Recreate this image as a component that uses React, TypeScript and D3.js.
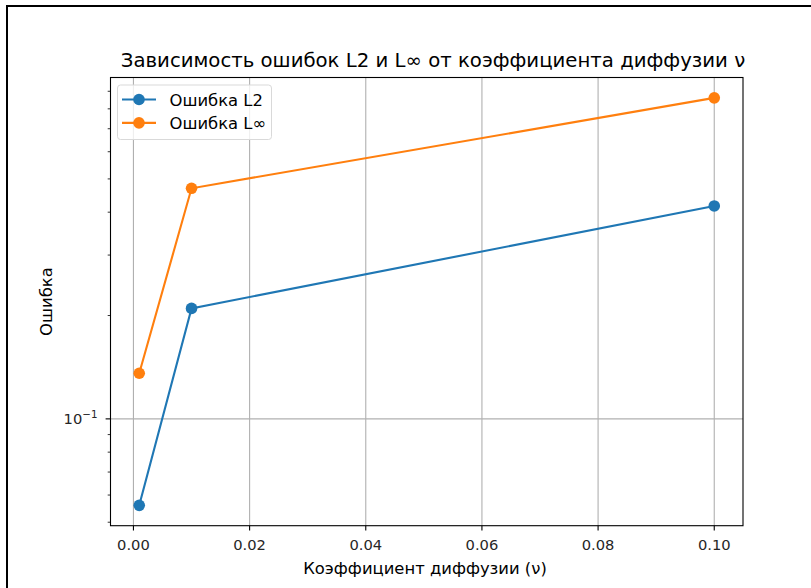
import React from "react";
import * as d3 from "d3";

const nuValues = [0.001, 0.01, 0.1];
const errL2 = [0.056, 0.2098, 0.417];
const errLinf = [0.1358, 0.4694, 0.861];
const seriesNames = ["Ошибка L2", "Ошибка L∞"];
const seriesColors = ["#1f77b4", "#ff7f0e"];
const xTicks = [0.0, 0.02, 0.04, 0.06, 0.08, 0.1];
const yMajorTicks = [0.1];
const yMinorTicks = [0.05, 0.06, 0.07, 0.08, 0.09, 0.2, 0.3, 0.4, 0.5, 0.6, 0.7, 0.8, 0.9];
const titleText = "Зависимость ошибок L2 и L∞ от коэффициента диффузии ν";
const xLabelText = "Коэффициент диффузии (ν)";
const yLabelText = "Ошибка";

const W = 811;
const H = 588;
const left = 110.5;
const right = 743;
const top = 77.5;
const bottom = 525.7;
const FONT = "DejaVu Sans, sans-serif";
const TICK_FS = 14.7;
const LABEL_FS = 16.4;
const TITLE_FS = 19.7;

export default function App() {
  const xMin = d3.min(nuValues)!;
  const xMax = d3.max(nuValues)!;
  const xPad = (xMax - xMin) * 0.05;
  const x = d3.scaleLinear().domain([xMin - xPad, xMax + xPad]).range([left, right]);

  const all = [...errL2, ...errLinf];
  const lMin = Math.log10(d3.min(all)!);
  const lMax = Math.log10(d3.max(all)!);
  const lPad = (lMax - lMin) * 0.05;
  const y = d3
    .scaleLog()
    .domain([Math.pow(10, lMin - lPad), Math.pow(10, lMax + lPad)])
    .range([bottom, top]);

  const series = [errL2, errLinf];
  const line = d3
    .line<[number, number]>()
    .x((d) => x(d[0]))
    .y((d) => y(d[1]));

  const [yd0, yd1] = y.domain();
  const minorVisible = yMinorTicks.filter((t) => t >= yd0 && t <= yd1);

  return (
    <svg
      width={W}
      height={H}
      style={{ position: "absolute", left: 0, top: 0, background: "#fff" }}
      fontFamily={FONT}
    >
      <rect x={0} y={0} width={W} height={H} fill="#fff" />
      {/* frame */}
      <path d={`M7,${H} V6 H${W}`} fill="none" stroke="#000" strokeWidth={2} />

      {/* grid */}
      {xTicks.map((t) => (
        <line key={"gx" + t} x1={x(t)} x2={x(t)} y1={top} y2={bottom} stroke="#b0b0b0" strokeWidth={1.1} />
      ))}
      {yMajorTicks.map((t) => (
        <line key={"gy" + t} x1={left} x2={right} y1={y(t)} y2={y(t)} stroke="#b0b0b0" strokeWidth={1.1} />
      ))}

      {/* series */}
      {series.map((s, i) => {
        const pts: [number, number][] = nuValues.map((v, j) => [v, s[j]]);
        return (
          <g key={"s" + i}>
            <path d={line(pts)!} fill="none" stroke={seriesColors[i]} strokeWidth={2.1} />
            {pts.map((p, j) => (
              <circle key={j} cx={x(p[0])} cy={y(p[1])} r={5.8} fill={seriesColors[i]} />
            ))}
          </g>
        );
      })}

      {/* axes frame */}
      <rect x={left} y={top} width={right - left} height={bottom - top} fill="none" stroke="#000" strokeWidth={1.1} />

      {/* x ticks */}
      {xTicks.map((t) => (
        <g key={"xt" + t}>
          <line x1={x(t)} x2={x(t)} y1={bottom} y2={bottom + 4.9} stroke="#000" strokeWidth={1.1} />
          <text x={x(t)} y={bottom + 24} textAnchor="middle" fontSize={TICK_FS} fill="#262626">
            {t.toFixed(2)}
          </text>
        </g>
      ))}

      {/* y ticks */}
      {yMajorTicks.map((t) => (
        <g key={"yt" + t}>
          <line x1={left - 4.9} x2={left} y1={y(t)} y2={y(t)} stroke="#000" strokeWidth={1.1} />
          <text x={left - 13} y={y(t) + 5} textAnchor="end" fontSize={TICK_FS} fill="#262626">
            10
            <tspan dy={-6} fontSize={10.3}>−1</tspan>
          </text>
        </g>
      ))}
      {minorVisible.map((t) => (
        <line key={"ym" + t} x1={left - 2.8} x2={left} y1={y(t)} y2={y(t)} stroke="#000" strokeWidth={0.8} />
      ))}

      {/* labels */}
      <text x={433} y={67} textAnchor="middle" fontSize={TITLE_FS} fill="#000">
        {titleText}
      </text>
      <text x={425} y={574} textAnchor="middle" fontSize={LABEL_FS} fill="#000">
        {xLabelText}
      </text>
      <text
        transform={`translate(52,${(top + bottom) / 2}) rotate(-90)`}
        textAnchor="middle"
        fontSize={LABEL_FS}
        fill="#000"
      >
        {yLabelText}
      </text>

      {/* legend */}
      <g>
        <rect x={117.5} y={85} width={154} height={54.5} rx={3} fill="#fff" fillOpacity={0.8} stroke="#d9d9d9" strokeWidth={1} />
        {seriesNames.map((n, i) => {
          const cy = 99.5 + i * 23.4;
          return (
            <g key={"lg" + i}>
              <line x1={122} x2={156} y1={cy} y2={cy} stroke={seriesColors[i]} strokeWidth={2.1} />
              <circle cx={139} cy={cy} r={5.8} fill={seriesColors[i]} />
              <text x={169.5} y={cy + 6} fontSize={LABEL_FS} fill="#000">
                {n}
              </text>
            </g>
          );
        })}
      </g>
    </svg>
  );
}
